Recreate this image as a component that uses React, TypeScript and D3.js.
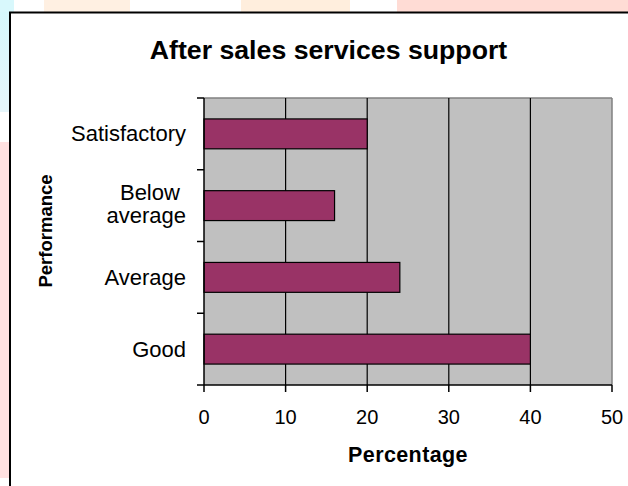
import React from "react";
import * as d3 from "d3";

const categories: string[] = ["Satisfactory", "Below average", "Average", "Good"];
const categoryLines: string[][] = [["Satisfactory"], ["Below\u00a0", "average"], ["Average"], ["Good"]];
const values: number[] = [20, 16, 24, 40];
const xTicks: number[] = [0, 10, 20, 30, 40, 50];
const title = "After sales services support";
const xTitle = "Percentage";
const yTitle = "Performance";

const W = 628;
const H = 486;
const FONT = "'Liberation Sans', Arial, sans-serif";

export default function App() {
  const left = 204, right = 612, top = 98, bottom = 385;
  const x = d3.scaleLinear().domain([0, 50]).range([left, right]);
  const p = 1.4 / 2.4;
  const y = d3.scaleBand<string>().domain(categories).range([top, bottom]).paddingInner(p).paddingOuter(p / 2);
  const step = y.step();
  const boundaries = d3.range(categories.length + 1).map((i) => top + i * step);

  return (
    <svg width={W} height={H} style={{ position: "absolute", left: 0, top: 0, background: "#fff" }}>
      {/* decorative background */}
      <defs>
        <linearGradient id="cy" x1="0" y1="0" x2="0" y2="1">
          <stop offset="0" stopColor="#d4f8fc" />
          <stop offset="1" stopColor="#e6f6fb" />
        </linearGradient>
      </defs>
      <rect x={0} y={0} width={9} height={112} fill="url(#cy)" />
      <rect x={0} y={0} width={14} height={12} fill="#d8f8fc" />
      <rect x={0} y={142} width={9} height={336} fill="#ffe1e1" />
      <rect x={44} y={0} width={86} height={12} fill="#fff0e2" />
      <rect x={241} y={0} width={109} height={12} fill="#ffeedd" />
      <rect x={397} y={0} width={231} height={12} fill="#ffdcd5" />

      {/* chart box */}
      <rect x={10} y={12.5} width={700} height={600} fill="#fff" stroke="#000" strokeWidth={2} />

      {/* title */}
      <text x={328.5} y={58.5} textAnchor="middle" fontFamily={FONT} fontWeight="bold" fontSize={26.7} fill="#000">
        {title}
      </text>

      {/* plot area */}
      <rect x={left} y={top} width={right - left} height={bottom - top} fill="#c0c0c0" />
      <line x1={left} x2={right} y1={top} y2={top} stroke="#808080" strokeWidth={1.5} />
      <line x1={right} x2={right} y1={top} y2={bottom} stroke="#808080" strokeWidth={1.5} />
      {xTicks.slice(1, -1).map((t) => (
        <line key={t} x1={x(t)} x2={x(t)} y1={top} y2={bottom} stroke="#000" strokeWidth={1.2} />
      ))}

      {/* bars */}
      {categories.map((c, i) => (
        <rect
          key={c}
          x={x(0)}
          y={y(c)!}
          width={x(values[i]) - x(0)}
          height={y.bandwidth()}
          fill="#993366"
          stroke="#000"
          strokeWidth={1.2}
        />
      ))}

      {/* axes */}
      <line x1={left} x2={left} y1={top} y2={bottom} stroke="#000" strokeWidth={1.5} />
      <line x1={left} x2={right} y1={bottom} y2={bottom} stroke="#000" strokeWidth={1.5} />
      {boundaries.map((b, i) => (
        <line key={i} x1={left - 7} x2={left} y1={b} y2={b} stroke="#000" strokeWidth={1.5} />
      ))}
      {xTicks.map((t) => (
        <line key={t} x1={x(t)} x2={x(t)} y1={bottom} y2={bottom + 7} stroke="#000" strokeWidth={1.5} />
      ))}

      {/* x tick labels */}
      {xTicks.map((t) => (
        <text key={t} x={x(t)} y={424} textAnchor="middle" fontFamily={FONT} fontSize={20} fill="#000">
          {t}
        </text>
      ))}

      {/* category labels */}
      {categories.map((c, i) => {
        const lines = categoryLines[i];
        const cy = y(c)! + y.bandwidth() / 2;
        const lh = 23;
        const first = cy + 7.5 - ((lines.length - 1) * lh) / 2 - (lines.length - 1) * 1.5;
        return (
          <text key={c} textAnchor="end" fontFamily={FONT} fontSize={22} fill="#000" style={{ whiteSpace: "pre" }}>
            {lines.map((l, j) => (
              <tspan key={j} x={186} y={first + j * lh}>
                {l}
              </tspan>
            ))}
          </text>
        );
      })}

      {/* axis titles */}
      <text x={408} y={462} textAnchor="middle" fontFamily={FONT} fontWeight="bold" fontSize={21.5} letterSpacing={0.4} fill="#000">
        {xTitle}
      </text>
      <text
        transform={`translate(52,231) rotate(-90)`}
        textAnchor="middle"
        fontFamily={FONT}
        fontWeight="bold"
        fontSize={18.5}
        fill="#000"
      >
        {yTitle}
      </text>
    </svg>
  );
}
